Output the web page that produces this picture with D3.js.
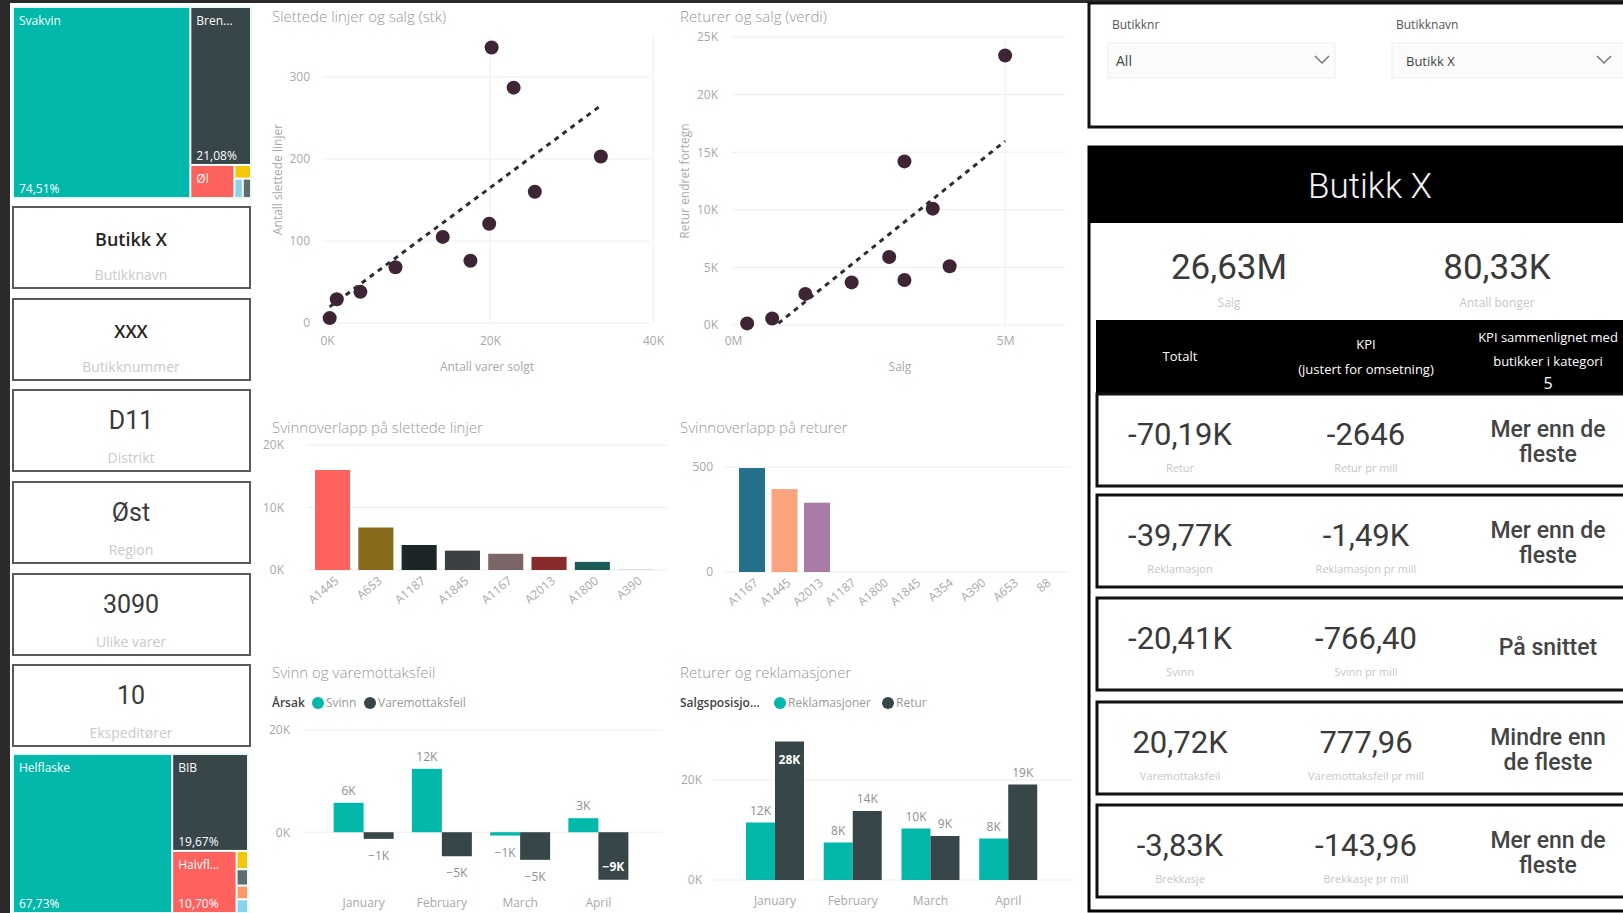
<!DOCTYPE html>
<html lang="no">
<head>
<meta charset="utf-8">
<title>Butikkrapport</title>
<script src="https://cdn.jsdelivr.net/npm/d3@7"></script>
<style>
body { margin: 0; background: #fff; }
svg { display: block; font-family: "Open Sans", "Noto Sans", sans-serif; }
.title { fill: #979797; font-size: 15px; font-weight: 300; }
.axis text { fill: #a8a8a8; font-size: 12px; font-family: "Open Sans", sans-serif; }
.grid line { stroke: #eeeeee; stroke-width: 1px; }
.axis-title { fill: #a8a8a8; font-size: 12px; }
.num { font-family: Roboto, "DejaVu Sans", sans-serif; fill: #333; }
.sub { fill: #c6c6c6; font-size: 11px; }
.dlabel { fill: #8f8f8f; font-size: 12px; }
</style>
</head>
<body>
<script>

// ---- data ----
var topTreeNames = ["Svakvin", "Brennevin", "Øl", "Sider", "Rusbrus", "Annet"];
var topTreeValues = [74.51, 21.08, 3.2, 0.5, 0.35, 0.36];

var botTreeNames = ["Helflaske", "BIB", "Halvflaske", "Kvartflaske", "Magnum", "Boks", "Annet"];
var botTreeValues = [67.73, 19.67, 10.70, 0.56, 0.5, 0.42, 0.42];

var cardValues = ["Butikk X", "XXX", "D11", "Øst", "3090", "10"];
var cardLabels = ["Butikknavn", "Butikknummer", "Distrikt", "Region", "Ulike varer", "Ekspeditører"];

// Slettede linjer og salg (stk)
var solgtStk = [330, 1200, 4100, 8400, 14200, 17600, 19900, 20200, 22900, 25500, 33600];
var slettedeLinjer = [6, 29, 38, 68, 105, 76, 121, 336, 287, 160, 203];

// Returer og salg (verdi)
var salgVerdi = [260000, 720000, 1330000, 2180000, 2870000, 3150000, 3150000, 3670000, 3980000, 5000000];
var returVerdi = [140, 570, 2700, 3700, 5900, 3900, 14200, 10100, 5100, 23400];

var slettCats = ["A1445", "A653", "A1187", "A1845", "A1167", "A2013", "A1800", "A390"];
var slettVals = [16000, 6800, 4000, 3100, 2600, 2100, 1300, 100];

var returCats = ["A1167", "A1445", "A2013", "A1187", "A1800", "A1845", "A354", "A390", "A653", "88"];
var returVals = [495, 395, 330, 0, 0, 0, 0, 0, 0, 0];

var months = ["January", "February", "March", "April"];
var svinn = [5750, 12400, -650, 2750];
var varemottaksfeil = [-1300, -4700, -5400, -9300];
var reklamasjoner = [11500, 7500, 10300, 8300];
var retur = [27700, 13800, 8800, 19100];

var kpiTotal = ["-70,19K", "-39,77K", "-20,41K", "20,72K", "-3,83K"];
var kpiTotalLabels = ["Retur", "Reklamasjon", "Svinn", "Varemottaksfeil", "Brekkasje"];
var kpiAdj = ["-2646", "-1,49K", "-766,40", "777,96", "-143,96"];
var kpiAdjLabels = ["Retur pr mill", "Reklamasjon pr mill", "Svinn pr mill", "Varemottaksfeil pr mill", "Brekkasje pr mill"];
var kpiCompare = [["Mer enn de", "fleste"], ["Mer enn de", "fleste"], ["På snittet"], ["Mindre enn", "de fleste"], ["Mer enn de", "fleste"]];

// ---- styles ----
var treeColors = ["#01B8AA", "#374649", "#FD625E", "#F2C80F", "#5F6B6D", "#8AD4EB", "#FE9666"];
var botTreeColors = ["#01B8AA", "#374649", "#FD625E", "#F2C80F", "#5F6B6D", "#FE9666", "#8AD4EB"];
var slettColors = ["#FD625E", "#8a6a1c", "#1d2627", "#3b4142", "#7b6566", "#8a2b2b", "#1c5c56", "#cfcfcf"];
var returColors = ["#25718b", "#F9A47E", "#A97BA6", "#ccc", "#ccc", "#ccc", "#ccc", "#ccc", "#ccc", "#ccc"];
var teal = "#01B8AA", dark = "#374649", dot = "#3e2536";

var no = d3.formatLocale({decimal: ",", thousands: " ", grouping: [3], currency: ["kr", ""]});
var pct = function(v) { return no.format(".2f")(v) + "%"; };
var kFmt = function(d) { return d3.format("d")(d / 1000) + "K"; };

var svg = d3.select("body").append("svg")
    .attr("width", 1623)
    .attr("height", 913);

svg.append("rect").attr("width", 1623).attr("height", 913).attr("fill", "#fff");
svg.append("rect").attr("width", 10).attr("height", 913).attr("fill", "#2b2b2b");
svg.append("rect").attr("width", 1623).attr("height", 3).attr("fill", "#2b2b2b");

// ---- treemaps ----
function treemap(x, y, w, h, names, values, colors) {
  var root = d3.hierarchy({children: names.map(function(n, i) { return {name: n, value: values[i], i: i}; })})
      .sum(function(d) { return d.value || 0; })
      .sort(function(a, b) { return b.value - a.value; });
  d3.treemap().size([w, h]).paddingInner(2).tile(d3.treemapSquarify)(root);

  var g = svg.append("g").attr("transform", "translate(" + x + "," + y + ")");
  g.append("rect").attr("x", -1).attr("y", -1).attr("width", w + 2).attr("height", h + 2)
      .attr("fill", "none").attr("stroke", "#d2f3f1");
  var cell = g.selectAll(".cell").data(root.leaves()).join("g")
      .attr("class", "cell")
      .attr("transform", function(d) { return "translate(" + d.x0 + "," + d.y0 + ")"; });
  cell.append("rect")
      .attr("width", function(d) { return d.x1 - d.x0; })
      .attr("height", function(d) { return d.y1 - d.y0; })
      .attr("fill", function(d) { return colors[d.data.i]; });
  cell.each(function(d) {
    var cw = d.x1 - d.x0, ch = d.y1 - d.y0, c = d3.select(this);
    if (cw < 25 || ch < 22) return;
    var t = c.append("text").attr("x", 5).attr("y", 17).attr("fill", "#fff")
        .style("font-size", "12px").text(d.data.name);
    var s = d.data.name;
    while (t.node().getComputedTextLength() > cw - 16 && s.length > 1) {
      s = s.slice(0, -1);
      t.text(s + "...");
    }
    if (ch > 45) {
      c.append("text").attr("x", 5).attr("y", ch - 4).attr("fill", "#fff")
          .style("font-size", "12px").text(pct(d.data.value));
    }
  });
}

treemap(14, 8, 236, 189, topTreeNames, topTreeValues, treeColors);
treemap(14, 755, 233, 157, botTreeNames, botTreeValues, botTreeColors);

// ---- cards ----
var cardTops = [207, 299, 390, 482, 574, 665];
cardValues.forEach(function(v, i) {
  var top = cardTops[i];
  svg.append("rect").attr("x", 13).attr("y", top).attr("width", 237).attr("height", 81)
      .attr("fill", "#fff").attr("stroke", "#5a5a5a").attr("stroke-width", 2);
  var t = svg.append("text").attr("x", 131).attr("y", top + 38.5).attr("text-anchor", "middle").text(v);
  if (i < 2) {
    t.style("font-size", "18px").style("font-weight", 600).attr("fill", "#252525");
  } else {
    t.attr("class", "num").style("font-size", "25px").style("fill", "#3a3a3a");
  }
  svg.append("text").attr("x", 131).attr("y", top + 73).attr("text-anchor", "middle")
      .attr("fill", "#cacaca").style("font-size", "14px").text(cardLabels[i]);
});

// ---- scatter charts ----
function scatter(o) {
  var x = d3.scaleLinear().domain(o.xDomain).range(o.xRange);
  var y = d3.scaleLinear().domain(o.yDomain).range(o.yRange);
  var g = svg.append("g");

  g.append("g").attr("class", "grid").selectAll("line").data(o.yTicks).join("line")
      .attr("x1", o.gridX[0]).attr("x2", o.gridX[1])
      .attr("y1", function(d) { return y(d); }).attr("y2", function(d) { return y(d); });
  g.append("g").attr("class", "grid").selectAll("line").data(o.xTicks.filter(function(d) { return d > 0; })).join("line")
      .attr("x1", function(d) { return x(d); }).attr("x2", function(d) { return x(d); })
      .attr("y1", o.yRange[1]).attr("y2", o.yRange[0]);

  g.append("g").attr("class", "axis")
      .attr("transform", "translate(" + o.xRange[0] + ",0)")
      .call(d3.axisLeft(y).tickValues(o.yTicks).tickFormat(o.yFmt).tickSize(0).tickPadding(o.yPad))
      .call(function(a) { a.select(".domain").remove(); });
  g.append("g").attr("class", "axis")
      .attr("transform", "translate(0," + o.yRange[0] + ")")
      .call(d3.axisBottom(x).tickValues(o.xTicks).tickFormat(o.xFmt).tickSize(0).tickPadding(o.xPad))
      .call(function(a) { a.select(".domain").remove(); });

  // linear trend line, clipped to the plot area
  var mx = d3.mean(o.xs), my = d3.mean(o.ys);
  var sxy = d3.sum(o.xs, function(v, i) { return (v - mx) * (o.ys[i] - my); });
  var sxx = d3.sum(o.xs, function(v) { return (v - mx) * (v - mx); });
  var b = sxy / sxx, a0 = my - b * mx;
  var ext = d3.extent(o.xs);
  g.append("clipPath").attr("id", o.id).append("rect")
      .attr("x", o.xRange[0]).attr("y", o.yRange[1])
      .attr("width", o.xRange[1] - o.xRange[0]).attr("height", o.yRange[0] - o.yRange[1]);
  g.append("line")
      .attr("clip-path", "url(#" + o.id + ")")
      .attr("x1", x(ext[0])).attr("y1", y(a0 + b * ext[0]))
      .attr("x2", x(ext[1])).attr("y2", y(a0 + b * ext[1]))
      .attr("stroke", "#2e2e2e").attr("stroke-width", 3).attr("stroke-dasharray", "5,5");

  g.selectAll(".dot").data(o.xs).join("circle")
      .attr("class", "dot")
      .attr("cx", function(d) { return x(d); })
      .attr("cy", function(d, i) { return y(o.ys[i]); })
      .attr("r", 7)
      .attr("fill", dot);

  g.append("text").attr("class", "title").attr("x", o.titleX).attr("y", 22).text(o.title);
  g.append("text").attr("class", "axis-title").attr("text-anchor", "middle")
      .attr("x", (o.xRange[0] + o.xRange[1]) / 2 + o.xTitleShift).attr("y", 371).text(o.xTitle);
  g.append("text").attr("class", "axis-title").attr("text-anchor", "middle")
      .attr("transform", "translate(" + o.yTitleX + "," + ((o.yRange[0] + o.yRange[1]) / 2) + ") rotate(-90)")
      .text(o.yTitle);
}

scatter({
  id: "clipA", xs: solgtStk, ys: slettedeLinjer,
  xDomain: [0, 40000], xRange: [327, 653], yDomain: [0, 350], yRange: [323, 36],
  xTicks: [0, 20000, 40000], yTicks: [0, 100, 200, 300],
  xFmt: kFmt, yFmt: d3.format("d"), xPad: 13, yPad: 17, gridX: [322, 650],
  title: "Slettede linjer og salg (stk)", titleX: 272,
  xTitle: "Antall varer solgt", xTitleShift: -3, yTitle: "Antall slettede linjer", yTitleX: 282
});

scatter({
  id: "clipB", xs: salgVerdi, ys: returVerdi,
  xDomain: [0, 6100000], xRange: [733, 1065], yDomain: [0, 25000], yRange: [325, 37],
  xTicks: [0, 5000000], yTicks: [0, 5000, 10000, 15000, 20000, 25000],
  xFmt: function(d) { return (d / 1e6) + "M"; }, yFmt: kFmt, xPad: 11, yPad: 15, gridX: [732, 1065],
  title: "Returer og salg (verdi)", titleX: 680,
  xTitle: "Salg", xTitleShift: 1, yTitle: "Retur endret fortegn", yTitleX: 689
});

// ---- column charts ----
function columns(o) {
  var x = d3.scaleBand().domain(o.cats).range(o.xRange).paddingInner(o.pad).paddingOuter(0.1);
  var y = d3.scaleLinear().domain(o.yDomain).range(o.yRange);
  var g = svg.append("g");
  g.append("text").attr("class", "title").attr("x", o.titleX).attr("y", 433).text(o.title);
  g.append("g").attr("class", "grid").selectAll("line").data(o.yTicks).join("line")
      .attr("x1", o.gridX[0]).attr("x2", o.gridX[1])
      .attr("y1", function(d) { return y(d); }).attr("y2", function(d) { return y(d); });
  g.append("g").attr("class", "axis")
      .attr("transform", "translate(" + o.axisX + ",0)")
      .call(d3.axisLeft(y).tickValues(o.yTicks).tickFormat(o.yFmt).tickSize(0).tickPadding(0))
      .call(function(a) { a.select(".domain").remove(); });
  g.selectAll(".bar").data(o.vals).join("rect")
      .attr("x", function(d, i) { return x(o.cats[i]); })
      .attr("width", x.bandwidth())
      .attr("y", function(d) { return y(d); })
      .attr("height", function(d) { return y(0) - y(d); })
      .attr("fill", function(d, i) { return o.colors[i]; });
  g.selectAll(".xl").data(o.cats).join("text")
      .attr("class", "axis-title")
      .attr("text-anchor", "end")
      .style("font-size", "12px")
      .attr("transform", function(d) {
        return "translate(" + (x(d) + x.bandwidth() / 2 + 7) + "," + (o.yRange[0] + 12) + ") rotate(-40)";
      })
      .text(function(d) { return d; });
}

columns({
  cats: slettCats, vals: slettVals, colors: slettColors,
  xRange: [310.7, 657.5], pad: 0.19, yDomain: [0, 20000], yRange: [570, 445],
  yTicks: [0, 10000, 20000], yFmt: kFmt, axisX: 284, gridX: [307, 667],
  title: "Svinnoverlapp på slettede linjer", titleX: 272
});

columns({
  cats: returCats, vals: returVals, colors: returColors,
  xRange: [735.75, 1060.75], pad: 0.2, yDomain: [0, 500], yRange: [572, 467],
  yTicks: [0, 500], yFmt: d3.format("d"), axisX: 713, gridX: [725, 1070],
  title: "Svinnoverlapp på returer", titleX: 680
});

// ---- clustered month charts ----
function clustered(o) {
  var x = d3.scaleBand().domain(months).range(o.xRange).paddingInner(o.pad).paddingOuter(o.pad / 2);
  var xs = d3.scaleBand().domain([0, 1]).range([0, x.bandwidth()]);
  var y = d3.scaleLinear().domain(o.yDomain).range(o.yRange);
  var g = svg.append("g");

  g.append("text").attr("class", "title").attr("x", o.titleX).attr("y", 678).text(o.title);
  g.append("text").attr("x", o.titleX).attr("y", 707).attr("fill", "#444")
      .style("font-size", "12px").style("font-weight", 600).text(o.legendTitle);
  o.names.forEach(function(n, k) {
    g.append("circle").attr("cx", o.legendX[k]).attr("cy", 703).attr("r", 6)
        .attr("fill", k === 0 ? teal : dark);
    g.append("text").attr("x", o.legendX[k] + 8).attr("y", 707).attr("fill", "#9a9a9a")
        .style("font-size", "12px").text(n);
  });

  g.append("g").attr("class", "grid").selectAll("line").data(o.yTicks).join("line")
      .attr("x1", o.gridX[0]).attr("x2", o.gridX[1])
      .attr("y1", function(d) { return y(d); }).attr("y2", function(d) { return y(d); });
  g.append("g").attr("class", "axis")
      .attr("transform", "translate(" + o.axisX + ",0)")
      .call(d3.axisLeft(y).tickValues(o.yTicks).tickFormat(kFmt).tickSize(0).tickPadding(0))
      .call(function(a) { a.select(".domain").remove(); });
  g.append("g").attr("class", "axis")
      .attr("transform", "translate(0," + o.monthY + ")")
      .call(d3.axisBottom(x).tickSize(0).tickPadding(0))
      .call(function(a) { a.select(".domain").remove(); });

  var top = o.yRange[1], bottom = o.yRange[0];
  [o.a, o.b].forEach(function(series, k) {
    series.forEach(function(v, i) {
      var bx = x(months[i]) + xs(k), bw = xs.bandwidth();
      var y0 = y(Math.max(0, v)), y1 = y(Math.min(0, v));
      g.append("rect").attr("x", bx).attr("width", bw).attr("y", y0).attr("height", Math.max(1, y1 - y0))
          .attr("fill", k === 0 ? teal : dark);
      var ly, inside = false;
      if (v >= 0) {
        ly = y0 - 8;
        if (ly - 12 < top) { ly = y0 + 22; inside = true; }
      } else {
        ly = y1 + 21;
        if (ly > bottom) { ly = y1 - 9; inside = true; }
      }
      g.append("text").attr("class", "dlabel").attr("text-anchor", "middle")
          .attr("x", bx + bw / 2).attr("y", ly)
          .style("fill", inside ? "#fff" : null).style("font-weight", inside ? 700 : null)
          .text(kFmt(Math.round(v / 1000) * 1000));
    });
  });
}

clustered({
  xRange: [324.5, 637.5], pad: 0.233, yDomain: [-11500, 20000], yRange: [891, 730],
  yTicks: [0, 20000], axisX: 290, gridX: [303, 663], monthY: 898,
  a: svinn, b: varemottaksfeil, names: ["Svinn", "Varemottaksfeil"], legendX: [318, 370],
  title: "Svinn og varemottaksfeil", titleX: 272, legendTitle: "Årsak"
});

clustered({
  xRange: [736.1, 1047.1], pad: 0.254, yDomain: [0, 30000], yRange: [880, 730],
  yTicks: [0, 20000], axisX: 702, gridX: [713, 1073], monthY: 896,
  a: reklamasjoner, b: retur, names: ["Reklamasjoner", "Retur"], legendX: [780, 888],
  title: "Returer og reklamasjoner", titleX: 680, legendTitle: "Salgsposisjo..."
});

// ---- right panel ----
var rp = svg.append("g");
rp.append("rect").attr("x", 1089).attr("y", 3).attr("width", 560).attr("height", 124)
    .attr("fill", "#fff").attr("stroke", "#111").attr("stroke-width", 3);
[{label: "Butikknr", val: "All", x: 1108, w: 227, chev: 1322}, {label: "Butikknavn", val: "Butikk X", x: 1392, w: 240, chev: 1604}]
  .forEach(function(s) {
    rp.append("text").attr("x", s.x + 4).attr("y", 29).attr("fill", "#555").style("font-size", "12px").text(s.label);
    rp.append("rect").attr("x", s.x).attr("y", 43).attr("width", s.w).attr("height", 35)
        .attr("fill", "#fbfbfb").attr("stroke", "#eee");
    rp.append("text").attr("x", s.x + (s.val === "All" ? 8 : 14)).attr("y", 66).attr("fill", "#444")
        .style("font-size", s.val === "All" ? "14px" : "13px").text(s.val);
    rp.append("path").attr("d", "M" + (s.chev - 7) + ",56 L" + s.chev + ",63 L" + (s.chev + 7) + ",56")
        .attr("fill", "none").attr("stroke", "#777").attr("stroke-width", 1.5);
  });

rp.append("rect").attr("x", 1089).attr("y", 147).attr("width", 560).attr("height", 764)
    .attr("fill", "#fff").attr("stroke", "#000").attr("stroke-width", 3);
rp.append("rect").attr("x", 1089).attr("y", 147).attr("width", 560).attr("height", 76).attr("fill", "#000");
rp.append("text").attr("class", "num").attr("x", 1370).attr("y", 198).attr("text-anchor", "middle")
    .style("fill", "#f2f2f2").style("font-size", "35px").style("font-weight", 300).text("Butikk X");

[{v: "26,63M", l: "Salg", x: 1229}, {v: "80,33K", l: "Antall bonger", x: 1497}].forEach(function(k) {
  rp.append("text").attr("class", "num").attr("x", k.x).attr("y", 279).attr("text-anchor", "middle")
      .style("font-size", "35px").style("fill", "#3a3a3a").text(k.v);
  rp.append("text").attr("class", "sub").attr("x", k.x).attr("y", 307).attr("text-anchor", "middle")
      .style("font-size", "12px").text(k.l);
});

rp.append("rect").attr("x", 1096).attr("y", 320).attr("width", 540).attr("height", 74).attr("fill", "#000");
var hdr = [
  {x: 1180, lines: ["Totalt"], ys: [361]},
  {x: 1366, lines: ["KPI", "(justert for omsetning)"], ys: [349, 374]},
  {x: 1548, lines: ["KPI sammenlignet med", "butikker i kategori", "5"], ys: [342, 366, 389]}
];
hdr.forEach(function(h) {
  h.lines.forEach(function(s, i) {
    rp.append("text").attr("x", h.x).attr("y", h.ys[i]).attr("text-anchor", "middle")
        .attr("fill", "#fff").style("font-size", i === 2 ? "16px" : "13px").text(s);
  });
});

var rowTops = [394, 495, 598, 702, 805];
kpiTotal.forEach(function(v, i) {
  var top = rowTops[i];
  rp.append("rect").attr("x", 1097).attr("y", top).attr("width", 540).attr("height", 92)
      .attr("fill", "#fff").attr("stroke", "#111").attr("stroke-width", 3);
  rp.append("text").attr("class", "num").attr("x", 1180).attr("y", top + 51).attr("text-anchor", "middle")
      .style("font-size", "31px").style("fill", "#3a3a3a").text(v);
  rp.append("text").attr("class", "sub").attr("x", 1180).attr("y", top + 78).attr("text-anchor", "middle")
      .text(kpiTotalLabels[i]);
  rp.append("text").attr("class", "num").attr("x", 1366).attr("y", top + 51).attr("text-anchor", "middle")
      .style("font-size", "31px").style("fill", "#3a3a3a").text(kpiAdj[i]);
  rp.append("text").attr("class", "sub").attr("x", 1366).attr("y", top + 78).attr("text-anchor", "middle")
      .text(kpiAdjLabels[i]);
  var lines = kpiCompare[i];
  lines.forEach(function(s, j) {
    rp.append("text").attr("class", "num").attr("x", 1548)
        .attr("y", lines.length === 1 ? top + 57 : top + 43 + j * 25)
        .attr("text-anchor", "middle").style("font-size", "23px").style("font-weight", 500)
        .style("fill", "#444").text(s);
  });
});

</script>
</body>
</html>
